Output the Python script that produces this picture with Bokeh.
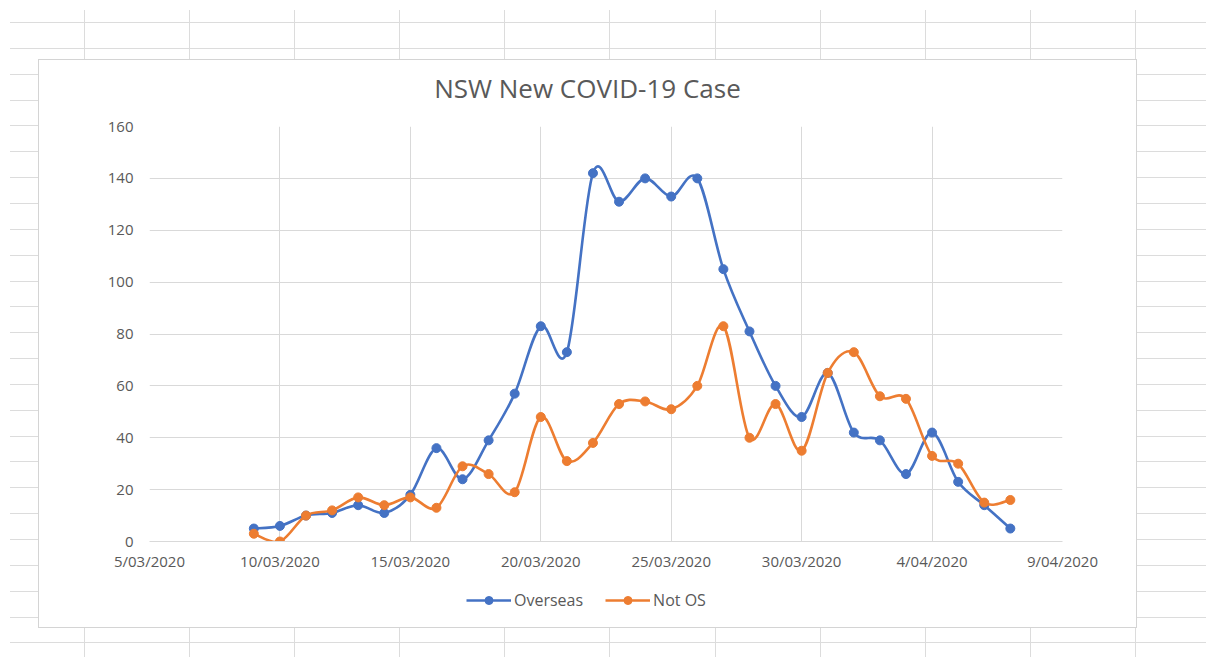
import numpy as np
import pandas as pd
from bokeh.plotting import figure
from bokeh.layouts import column
from bokeh.models import (ColumnDataSource, FixedTicker, Legend, LegendItem, Range1d,
                          Div)
from bokeh.embed import file_html
from bokeh.resources import INLINE

# ---------------- data ----------------
dates = pd.date_range("2020-03-09", "2020-04-07", freq="D")
overseas = [5, 6, 10, 11, 14, 11, 18, 36, 24, 39, 57, 83, 73, 142, 131, 140, 133, 140,
            105, 81, 60, 48, 65, 42, 39, 26, 42, 23, 14, 5]
not_os = [3, 0, 10, 12, 17, 14, 17, 13, 29, 26, 19, 48, 31, 38, 53, 54, 51, 60,
          83, 40, 53, 35, 65, 73, 56, 55, 33, 30, 15, 16]
tick_dates = ["2020-03-05", "2020-03-10", "2020-03-15", "2020-03-20", "2020-03-25",
              "2020-03-30", "2020-04-04", "2020-04-09"]
tick_labels = ["5/03/2020", "10/03/2020", "15/03/2020", "20/03/2020", "25/03/2020",
               "30/03/2020", "4/04/2020", "9/04/2020"]
y_ticks = [0, 20, 40, 60, 80, 100, 120, 140, 160]
series_names = ["Overseas", "Not OS"]
series_colors = ["#4472C4", "#ED7D31"]
chart_title = "NSW New COVID-19 Case"

FONT = "Open Sans"
TXT = "#595959"
GRID = "#d9d9d9"
LW = 2.6


def to_ms(d):
    return (pd.to_datetime(d).astype("int64") // 10**6).astype(float)


x_ms = np.asarray(to_ms(pd.Series(dates)))
tick_ms = np.asarray(to_ms(pd.Series(tick_dates)))


def smooth_segments(xs, ys):
    """Cubic Bezier segments (Excel-like smoothed line) through the data points."""
    xs = np.asarray(xs, float)
    ys = np.asarray(ys, float)
    xm = np.r_[xs[0], xs[:-1]]
    ym = np.r_[ys[0], ys[:-1]]
    xp = np.r_[xs[1:], xs[-1]]
    yp = np.r_[ys[1:], ys[-1]]
    dx = (xp - xm) / 6.0
    dy = (yp - ym) / 6.0
    return dict(
        x0=xs[:-1], y0=ys[:-1], x1=xs[1:], y1=ys[1:],
        cx0=xs[:-1] + dx[:-1], cy0=ys[:-1] + dy[:-1],
        cx1=xs[1:] - dx[1:], cy1=ys[1:] - dy[1:],
    )


# ---------------- title strip ----------------
title_div = Div(
    text=chart_title, width=1097, height=50, margin=0,
    styles={"font-family": FONT, "font-size": "26px", "color": TXT,
            "text-align": "center", "line-height": "56px", "white-space": "nowrap",
            "background-color": "white"},
)

# ---------------- main chart ----------------
p = figure(
    width=1097, height=476,
    x_axis_type="datetime",
    x_range=(tick_ms[0], tick_ms[-1]),
    y_range=(0, 160),
    output_backend="svg",
    toolbar_location=None,
    min_border_left=110, min_border_right=74, min_border_top=16, min_border_bottom=45,
)
p.outline_line_color = None
p.background_fill_color = "white"
p.border_fill_color = "white"

p.xaxis.ticker = FixedTicker(ticks=list(tick_ms))
p.xaxis.major_label_overrides = {float(t): lab for t, lab in zip(tick_ms, tick_labels)}
p.yaxis.ticker = FixedTicker(ticks=y_ticks)
for ax in (p.xaxis, p.yaxis):
    ax.major_tick_line_color = None
    ax.minor_tick_line_color = None
    ax.major_label_text_font = FONT
    ax.major_label_text_font_size = "15px"
    ax.major_label_text_color = TXT
p.xaxis.axis_line_color = GRID
p.yaxis.axis_line_color = None
p.xaxis.major_label_standoff = 3
p.yaxis.major_label_standoff = 10

p.xgrid.ticker = FixedTicker(ticks=list(tick_ms))
p.ygrid.ticker = FixedTicker(ticks=y_ticks)
p.grid.grid_line_color = GRID
p.grid.grid_line_width = 1

for vals, col in zip([overseas, not_os], series_colors):
    seg = ColumnDataSource(smooth_segments(x_ms, vals))
    p.bezier("x0", "y0", "x1", "y1", "cx0", "cy0", "cx1", "cy1", source=seg,
             line_color=col, line_width=LW)
    pts = ColumnDataSource(dict(x=x_ms, y=vals))
    p.scatter("x", "y", source=pts, size=9, fill_color=col, line_color=col)

# ---------------- legend strip (separate figure under the chart) ----------------
leg_fig = figure(
    width=1097, height=30,
    x_range=Range1d(0, 1), y_range=Range1d(0, 1),
    output_backend="svg", toolbar_location=None,
    x_axis_location=None, y_axis_location=None,
    min_border=0,
)
leg_fig.outline_line_color = None
leg_fig.grid.visible = False
leg_fig.background_fill_color = "white"
leg_fig.border_fill_color = "white"

items = []
for name, vals, col in zip(series_names, [overseas, not_os], series_colors):
    # the first data point lies far outside this strip's ranges: only the legend glyphs show
    src = ColumnDataSource(dict(x=x_ms[:1], y=vals[:1]))
    ln = leg_fig.line("x", "y", source=src, line_color=col, line_width=LW)
    sc = leg_fig.scatter("x", "y", source=src, size=9, fill_color=col, line_color=col)
    items.append(LegendItem(label=name, renderers=[ln, sc]))

legend = Legend(items=items, orientation="horizontal", location=(313, 1),
                glyph_width=45, glyph_height=20, label_height=20,
                label_standoff=3, spacing=22, padding=4, margin=0,
                label_text_font=FONT, label_text_font_size="16px",
                label_text_color=TXT, border_line_alpha=0,
                background_fill_alpha=0)
leg_fig.add_layout(legend, "center")

chart = column(
    title_div, p, leg_fig, width=1097, height=567, spacing=0, margin=(60, 0, 0, 39),
    styles={"background-color": "white", "outline": "1px solid #d4d4d4"},
)

sheet_bg = ", ".join([
    "repeating-linear-gradient(to right, #dcdcdc 0px, #dcdcdc 1px, transparent 1px, transparent 105.1px)",
    "repeating-linear-gradient(to bottom, #dcdcdc 0px, #dcdcdc 1px, transparent 1px, transparent 25.85px)",
])
page = column(
    chart, width=1206, height=657,
    styles={
        "background-color": "white",
        "background-image": sheet_bg,
        "background-repeat": "no-repeat, no-repeat",
        "background-position": "83.5px 10px, 10px 22.2px",
        "background-size": "1130px 647px, 1196px 640px",
    },
)

open("out.html", "w").write(file_html(page, INLINE))
